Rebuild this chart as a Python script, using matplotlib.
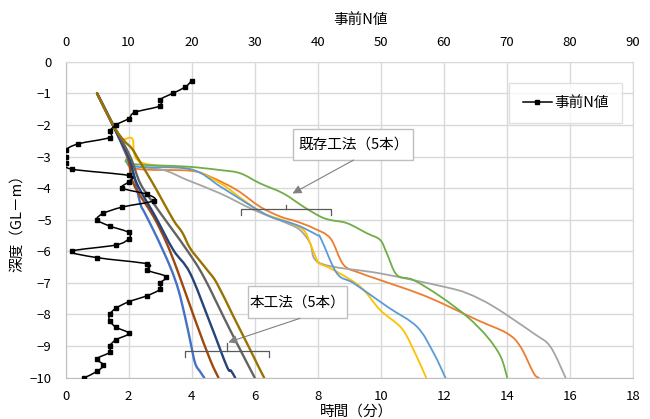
import matplotlib
matplotlib.use('Agg')

import matplotlib.pyplot as plt
from matplotlib.patches import Rectangle, PathPatch
from matplotlib.path import Path
from matplotlib.lines import Line2D

plt.rcParams['font.family'] = ['Noto Sans CJK JP', 'DejaVu Sans']

# --- boring data (N value vs depth) ---
n_depth = [-0.6, -0.8, -1.0, -1.2, -1.4, -1.6, -1.8, -2.0, -2.2, -2.4,
           -2.6, -2.8, -3.0, -3.2, -3.4, -3.6, -3.8, -4.0, -4.2, -4.4,
           -4.6, -4.8, -5.0, -5.2, -5.4, -5.6, -5.8, -6.0, -6.2, -6.4,
           -6.6, -6.8, -7.0, -7.2, -7.4, -7.6, -7.8, -8.0, -8.2, -8.4,
           -8.6, -8.8, -9.0, -9.2, -9.4, -9.6, -9.8, -10.0]
n_value = [20, 19, 17, 15, 15, 11, 10, 8, 7, 7,
           2, 0, 0, 0, 1, 10, 10, 9, 13, 14,
           9, 6, 5, 7, 10, 10, 8, 1, 5, 13,
           13, 16, 15, 15, 13, 10, 8, 7, 7, 8,
           10, 8, 7, 7, 5, 6, 5, 3]

# --- new method (5 piles): time [min], depth [GL-m] ---
new1_t = [1.0, 1.5, 1.95, 2.15, 2.37, 2.52, 2.89, 3.32, 3.58, 3.79, 3.95, 4.11, 4.27, 4.40]
new1_d = [-1.0, -2.0, -3.0, -3.53, -4.48, -4.80, -5.54, -6.49, -7.22, -8.07, -8.81, -9.54, -9.81, -10.0]
new2_t = [1.0, 1.5, 1.97, 2.15, 2.79, 3.21, 3.58, 4.11, 4.59, 4.85]
new2_d = [-1.0, -2.0, -3.0, -3.85, -4.90, -5.75, -6.69, -8.17, -9.44, -10.0]
new3_t = [1.0, 1.5, 2.0, 2.26, 2.85, 3.42, 3.95, 4.59, 5.12, 5.25, 5.38]
new3_d = [-1.0, -2.0, -3.0, -3.85, -4.90, -5.96, -6.69, -8.28, -9.65, -9.78, -10.0]
new4_t = [1.0, 1.52, 2.05, 2.37, 2.79, 3.32, 3.85, 4.38, 5.22, 6.0]
new4_d = [-1.0, -2.0, -3.0, -3.85, -4.48, -5.22, -5.96, -6.80, -8.49, -10.0]
new5_t = [1.0, 1.5, 1.84, 2.10, 2.26, 2.58, 2.89, 3.42, 3.70, 3.95, 4.30, 4.50, 4.80, 5.33, 5.86, 6.12, 6.30]
new5_d = [-1.0, -2.0, -2.48, -2.74, -3.0, -3.53, -4.06, -5.01, -5.40, -5.90, -6.35, -6.60, -7.01, -8.07, -9.12, -9.65, -10.0]

# --- existing method (5 piles) ---
old1_t = [1.0, 1.5, 1.95, 2.05, 3.85, 4.91, 5.54, 6.17, 6.91, 7.55, 8.08, 8.40, 8.93, 9.56,
          9.98, 10.19, 10.51, 11.04, 11.89, 12.74, 13.37, 13.80, 14.01]
old1_d = [-1.0, -2.0, -2.9, -3.22, -3.32, -3.43, -3.53, -3.85, -4.17, -4.59, -4.90, -5.01, -5.11, -5.43,
          -5.64, -6.06, -6.75, -6.91, -7.43, -8.07, -8.70, -9.33, -10.0]
old2_t = [1.0, 1.5, 1.95, 2.15, 3.95, 4.59, 5.43, 6.17, 6.81, 7.34, 7.87, 8.40, 8.82, 9.35,
          9.98, 11.47, 13.05, 14.01, 14.43, 14.85, 15.01]
old2_d = [-1.0, -2.0, -2.9, -3.37, -3.45, -3.64, -4.06, -4.59, -4.90, -5.06, -5.27, -5.59, -6.43, -6.69,
          -6.91, -7.44, -8.17, -8.60, -9.02, -9.86, -10.0]
old3_t = [1.0, 1.5, 1.95, 2.08, 3.11, 3.85, 4.91, 5.97, 7.02, 7.44, 7.76, 7.92, 8.50, 9.98,
          11.99, 12.74, 13.58, 14.85, 15.38, 15.86]
old3_d = [-1.0, -2.0, -2.9, -3.27, -3.43, -3.74, -4.17, -4.69, -5.11, -5.33, -5.75, -6.27, -6.49, -6.70,
          -7.12, -7.33, -7.75, -8.60, -9.02, -10.0]
old4_t = [1.0, 1.5, 1.8, 2.12, 2.36, 3.95, 4.91, 5.65, 6.28, 7.02, 7.55, 7.76, 7.97, 8.03,
          8.50, 9.35, 9.98, 10.62, 10.94, 11.44]
old4_d = [-1.0, -2.0, -2.44, -2.44, -3.17, -3.40, -3.85, -4.38, -4.80, -5.06, -5.33, -5.75, -6.27, -6.38,
          -6.59, -7.12, -7.86, -8.39, -8.91, -10.0]
old5_t = [1.0, 1.5, 1.95, 2.12, 3.95, 4.91, 5.75, 6.49, 7.34, 7.97, 8.10, 8.61, 9.14, 10.2,
          11.15, 11.68, 12.05]
old5_d = [-1.0, -2.0, -2.9, -3.30, -3.40, -3.95, -4.48, -4.90, -5.17, -5.48, -5.60, -6.70, -7.01, -7.75,
          -8.39, -9.23, -10.0]

time_ticks = [0, 2, 4, 6, 8, 10, 12, 14, 16, 18]
n_ticks = [0, 10, 20, 30, 40, 50, 60, 70, 80, 90]
depth_ticks = [0, -1, -2, -3, -4, -5, -6, -7, -8, -9, -10]


def smooth_line(axes, xs, ys, **kw):
    # smoothed line like a spreadsheet chart: cubic Bezier through each point
    pts = list(zip(xs, ys))
    n = len(pts)
    verts = [pts[0]]
    codes = [Path.MOVETO]
    for i in range(n - 1):
        p0 = pts[i - 1] if i > 0 else pts[i]
        p1 = pts[i]
        p2 = pts[i + 1]
        p3 = pts[i + 2] if i + 2 < n else pts[i + 1]
        c1 = (p1[0] + (p2[0] - p0[0]) / 6, p1[1] + (p2[1] - p0[1]) / 6)
        c2 = (p2[0] - (p3[0] - p1[0]) / 6, p2[1] - (p3[1] - p1[1]) / 6)
        verts += [c1, c2, p2]
        codes += [Path.CURVE4] * 3
    patch = PathPatch(Path(verts, codes), fill=False, capstyle='round',
                      joinstyle='round', **kw)
    axes.add_patch(patch)
    return patch


fig = plt.figure(figsize=(6.5, 4.19), dpi=100)
ax = fig.add_axes([0.1008, 0.0986, 0.8731, 0.7541])

old_series = [(old2_t, old2_d, '#ED7D31'), (old3_t, old3_d, '#A5A5A5'),
              (old4_t, old4_d, '#FFC000'), (old5_t, old5_d, '#5B9BD5'),
              (old1_t, old1_d, '#70AD47')]
for t, d, c in old_series:
    smooth_line(ax, t, d, edgecolor=c, lw=1.3)

new_series = [(new1_t, new1_d, '#4472C4'), (new2_t, new2_d, '#9E480E'),
              (new3_t, new3_d, '#264478'), (new4_t, new4_d, '#636363'),
              (new5_t, new5_d, '#997300')]
for t, d, c in new_series:
    smooth_line(ax, t, d, edgecolor=c, lw=1.7)

ax.set_xlim(0, 18)
ax.set_ylim(-10, 0)
ax.set_xticks(time_ticks)
ax.set_yticks(depth_ticks)
ax.grid(True, color='#D9D9D9', lw=1)
ax.set_axisbelow(True)
ax.tick_params(length=0, labelsize=9.5, colors='#000000')
ax.tick_params(axis='x', pad=9)
ax.tick_params(axis='y', pad=10)
for s in ['left', 'bottom']:
    ax.spines[s].set_color('#BFBFBF')
for s in ['top', 'right']:
    ax.spines[s].set_color('#D9D9D9')
ax.set_xlabel('時間（分）', fontsize=10.5, labelpad=1)
ax.xaxis.label.set_x(0.512)
ax.set_ylabel('深度（GL－m）', fontsize=10.5, labelpad=4)


# brackets and callouts
def bracket(x0, x1, y, dn, up):
    xm = (x0 + x1) / 2
    ax.plot([x0, x0, x1, x1], [y - dn, y, y, y - dn], color='#595959', lw=0.9)
    ax.plot([xm, xm], [y, y + up], color='#595959', lw=0.9)


def callout(text, box, tip, start):
    x0, y0, x1, y1 = box
    ax.add_patch(Rectangle((x0, y0), x1 - x0, y1 - y0, facecolor='white',
                           edgecolor='#BFBFBF', lw=1, zorder=5))
    ax.text((x0 + x1) / 2, (y0 + y1) / 2, text, ha='center', va='center',
            fontsize=10.5, zorder=6)
    ax.annotate('', xy=tip, xytext=start, zorder=6,
                arrowprops=dict(arrowstyle='-|>', color='#808080', lw=0.8,
                                mutation_scale=13, shrinkA=0, shrinkB=0))


bracket(5.56, 8.43, -4.67, 0.18, 0.13)
callout('既存工法（5本）', (7.22, -3.11, 11.03, -2.14), (7.2, -4.17), (9.14, -3.11))

bracket(3.79, 6.44, -9.15, 0.19, 0.24)
callout('本工法（5本）', (5.80, -8.12, 8.93, -7.10), (5.16, -8.88), (7.44, -8.12))

# N value on the top axis
ax2 = ax.twiny()
smooth_line(ax2, n_value, n_depth, edgecolor='black', lw=1.1, zorder=3)
ax2.plot(n_value, n_depth, ls='none', color='black', marker='s', ms=3.5, zorder=4)
ax2.set_xlim(0, 90)
ax2.set_xticks(n_ticks)
ax2.tick_params(length=0, labelsize=9.5, pad=9)
for s in ax2.spines.values():
    s.set_visible(False)
ax2.set_xlabel('事前N値', fontsize=10.5, labelpad=9)
ax2.xaxis.label.set_x(0.519)
handle = Line2D([], [], color='black', lw=1.1, marker='s', ms=3)
leg = ax2.legend([handle], ['事前N値'], loc='upper right',
                 bbox_to_anchor=(0.981, 0.933), fontsize=10.5,
                 frameon=True, fancybox=False, edgecolor='#D9D9D9',
                 handlelength=2.0, handletextpad=0.2, borderpad=0.9,
                 borderaxespad=0)
leg.get_frame().set_linewidth(1)

fig.savefig('out.png', dpi=100, facecolor='white')
